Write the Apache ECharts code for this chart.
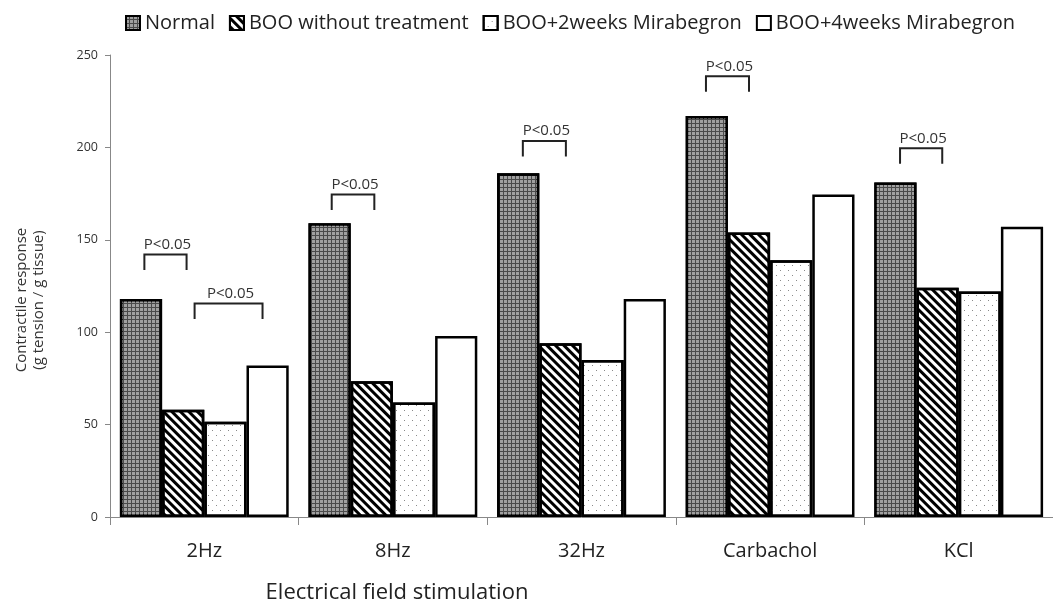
<!DOCTYPE html>
<html>
<head>
<meta charset="utf-8">
<script src="https://cdn.jsdelivr.net/npm/echarts@6/dist/echarts.min.js"></script>
<style>
  html, body { margin: 0; padding: 0; background: #fff; }
  #chart { width: 1053px; height: 614px; }
</style>
</head>
<body>
<div id="chart"></div>
<script>
// data
var categories = ["2Hz", "8Hz", "32Hz", "Carbachol", "KCl"];
var normal = [118, 159, 186, 217, 181];
var booNoTreat = [58, 73.5, 94, 154, 124];
var boo2w = [51.5, 62, 85, 139, 122];
var boo4w = [82, 98, 118, 174.5, 157];
var seriesNames = ["Normal", "BOO without treatment", "BOO+2weeks Mirabegron", "BOO+4weeks Mirabegron"];

// significance brackets: category, start / end in bar units within group, top value
var pCats = [0, 0, 1, 2, 3, 4];
var pFrom = [0.58, 1.77, 0.55, 0.61, 0.48, 0.61];
var pTo = [1.58, 3.38, 1.56, 1.63, 1.5, 1.61];
var pTop = [142, 115.5, 174.5, 203.5, 238.5, 199.5];
var pLabel = "P<0.05";

var FONT = "'Open Sans', 'Noto Sans', sans-serif";
var CAT_GAP = 0.105;

var chart = echarts.init(document.getElementById("chart"));

function barStyle(color, decal) {
  var s = { color: color, borderColor: "#000", borderWidth: 2.5 };
  if (decal) s.decal = decal;
  return s;
}

var styles = [
  barStyle("#4a4a4a", {
    symbol: "rect", symbolSize: 1,
    dashArrayX: [[3, 1]], dashArrayY: [3, 1],
    color: "#a0a0a0"
  }),
  barStyle("#fff", {
    symbol: "rect", symbolSize: 1,
    dashArrayX: [[1, 0]], dashArrayY: [2.8, 2.2],
    rotation: Math.PI / 4,
    color: "#000"
  }),
  barStyle("#fff", {
    symbol: "rect", symbolSize: 1,
    dashArrayX: [[1, 7], [0, 4, 1, 3]], dashArrayY: [1, 3.5],
    color: "#8a8a8a"
  }),
  barStyle("#fff", null)
];

var values = [normal, booNoTreat, boo2w, boo4w];
var series = values.map(function (d, i) {
  return {
    name: seriesNames[i],
    type: "bar",
    data: d,
    barGap: "0%",
    barCategoryGap: (CAT_GAP * 100) + "%",
    itemStyle: styles[i],
    emphasis: { disabled: true },
    animation: false
  };
});

var bracketData = pCats.map(function (c, i) {
  return [c, pFrom[i], pTo[i], pTop[i]];
});

series.push({
  type: "custom",
  data: bracketData,
  silent: true,
  animation: false,
  z: 10,
  renderItem: function (params, api) {
    var c = api.coord([api.value(0), api.value(3)]);
    var band = api.size([1, 0])[0];
    var barW = band * (1 - CAT_GAP) / 4;
    var left = c[0] - 2 * barW;
    var x1 = left + api.value(1) * barW;
    var x2 = left + api.value(2) * barW;
    var y = c[1];
    var foot = 15.5;
    return {
      type: "group",
      children: [
        {
          type: "polyline",
          shape: { points: [[x1, y + foot], [x1, y], [x2, y], [x2, y + foot]] },
          style: { stroke: "#222", lineWidth: 2, fill: null }
        },
        {
          type: "text",
          style: {
            x: (x1 + x2) / 2 + 2, y: y - 10,
            text: pLabel,
            align: "center", verticalAlign: "middle",
            font: "15px " + FONT, fill: "#333"
          }
        }
      ]
    };
  }
});

chart.setOption({
  animation: false,
  textStyle: { fontFamily: FONT },
  legend: {
    data: seriesNames,
    left: 120,
    top: 8,
    icon: "rect",
    itemWidth: 14,
    itemHeight: 14,
    itemGap: 14,
    itemStyle: { borderWidth: 2 },
    selectedMode: false,
    textStyle: { fontSize: 20, color: "#222", fontFamily: FONT }
  },
  grid: { left: 110, right: -10, top: 55, bottom: 97 },
  xAxis: {
    type: "category",
    data: categories,
    axisLine: { lineStyle: { color: "#888", width: 1 } },
    axisTick: { show: true, length: 8, lineStyle: { color: "#888" } },
    axisLabel: { fontSize: 20, color: "#222", margin: 24, fontFamily: FONT }
  },
  yAxis: {
    type: "value",
    min: 0,
    max: 250,
    interval: 50,
    splitLine: { show: false },
    axisLine: { show: true, lineStyle: { color: "#888", width: 1 } },
    axisTick: { show: true, length: 5, lineStyle: { color: "#888" } },
    axisLabel: { fontSize: 12.5, color: "#333", margin: 12, fontFamily: FONT }
  },
  graphic: [
    {
      type: "text",
      x: 30, y: 300,
      rotation: Math.PI / 2,
      style: {
        text: "Contractile response\n(g tension / g tissue)",
        align: "center", verticalAlign: "middle",
        font: "15px " + FONT, lineHeight: 17, fill: "#333"
      }
    },
    {
      type: "text",
      x: 397, y: 593,
      style: {
        text: "Electrical field stimulation",
        align: "center", verticalAlign: "middle",
        font: "22px " + FONT, fill: "#222"
      }
    }
  ],
  series: series
});
</script>
</body>
</html>
